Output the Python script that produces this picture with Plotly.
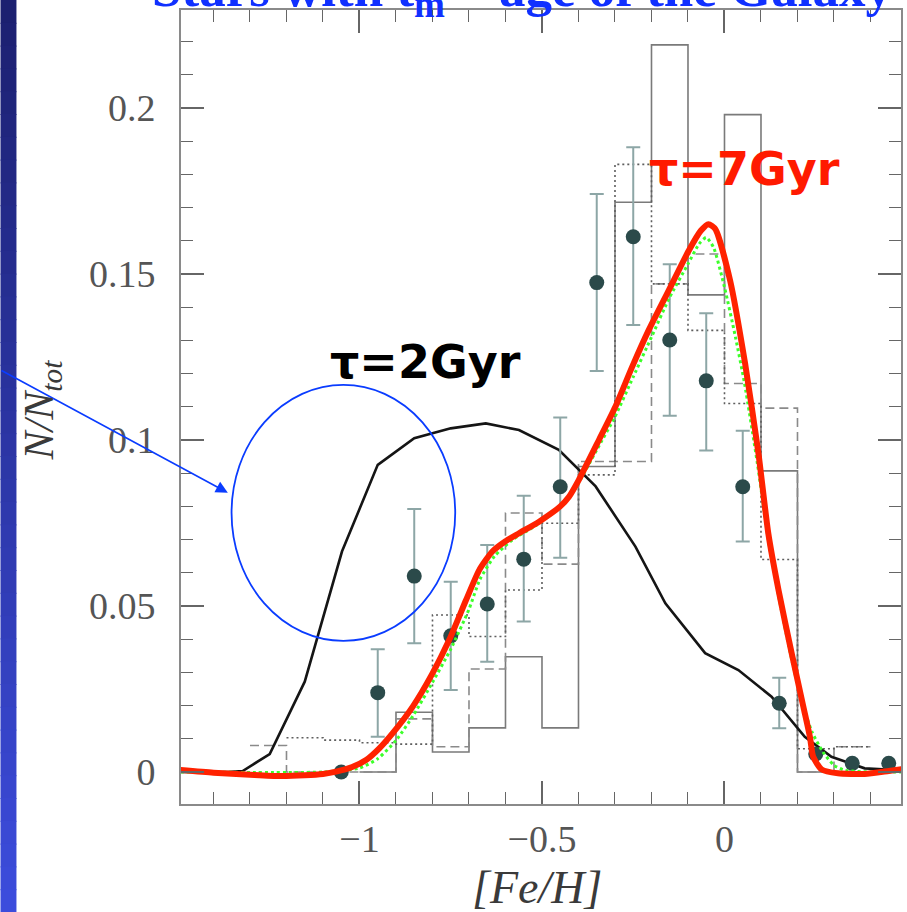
import plotly.graph_objects as go

# ---- observed metallicity distribution (points with error bars) ----
obs_feh = [-1.05, -0.95, -0.85, -0.75, -0.65, -0.55, -0.45, -0.35,
           -0.25, -0.15, -0.05, 0.05, 0.15, 0.25, 0.35, 0.45]
obs_frac = [0.0, 0.0239, 0.059, 0.041, 0.0506, 0.0641, 0.0859, 0.1474,
            0.1612, 0.1301, 0.1178, 0.0859, 0.0207, 0.0054, 0.0026, 0.0026]
obs_hi = [0.0, 0.037, 0.0792, 0.0573, 0.0684, 0.0832, 0.1068, 0.1741,
          0.1882, 0.1529, 0.1382, 0.1028, 0.0284, 0.0054, 0.0026, 0.0026]
obs_lo = [0.0, 0.0106, 0.0388, 0.0247, 0.0332, 0.0453, 0.0645, 0.1208,
          0.1346, 0.1073, 0.0968, 0.0694, 0.0132, 0.0054, 0.0026, 0.0026]

# ---- comparison samples, histograms with 0.1 dex bins ----
solid_edges = [-1.0, -0.9, -0.8, -0.7, -0.6, -0.5, -0.4, -0.3, -0.2, -0.1,
               0.0, 0.1, 0.2, 0.3]
solid_vals = [0.0, 0.018, 0.006, 0.0133, 0.0347, 0.0133, 0.092, 0.1716,
              0.219, 0.1437, 0.198, 0.0907, 0.0]

dashed_edges = [-1.3, -1.2, -1.1, -1.0, -0.9, -0.8, -0.7, -0.6, -0.5, -0.4,
                -0.3, -0.2, -0.1, 0.0, 0.1, 0.2, 0.3, 0.4]
dashed_vals = [0.008, 0.0, 0.0, 0.0, 0.016, 0.0076, 0.031, 0.078, 0.0626,
               0.0935, 0.0935, 0.147, 0.156, 0.117, 0.1096, 0.0, 0.0076]

dotted_edges = [-1.2, -1.1, -1.0, -0.9, -0.8, -0.7, -0.6, -0.5, -0.4, -0.3,
                -0.2, -0.1, 0.0, 0.1, 0.2, 0.3, 0.4]
dotted_vals = [0.0103, 0.0096, 0.0088, 0.0084, 0.0473, 0.0408, 0.0548,
               0.0749, 0.0895, 0.183, 0.147, 0.133, 0.111, 0.064, 0.007,
               0.0076]

# ---- model with tau = 2 Gyr ----
m2_feh = [-1.49, -1.36, -1.32, -1.246, -1.15, -1.048, -0.95, -0.85, -0.75,
          -0.654, -0.563, -0.508, -0.454, -0.353, -0.244, -0.162, -0.053,
          0.038, 0.129, 0.220, 0.293, 0.384, 0.49]
m2_frac = [0.0, 0.0, 0.0003, 0.0054, 0.0272, 0.0664, 0.0925, 0.1005, 0.1035,
           0.105, 0.103, 0.100, 0.097, 0.086, 0.0679, 0.0508, 0.0358, 0.0307,
           0.0227, 0.0106, 0.0046, 0.0011, 0.0005]

# ---- model with tau = 7 Gyr ----
m7_feh = [-1.49, -1.40, -1.30, -1.22, -1.15, -1.10, -1.064, -1.02, -0.982,
          -0.945, -0.909, -0.854, -0.80, -0.754, -0.708, -0.672, -0.636,
          -0.60, -0.563, -0.508, -0.45, -0.426, -0.399, -0.344, -0.299,
          -0.253, -0.208, -0.153, -0.098, -0.065, -0.044, -0.025, 0.0155,
          0.0565, 0.093, 0.120, 0.148, 0.184, 0.216, 0.234, 0.243, 0.266,
          0.311, 0.384, 0.45, 0.49]
m7_frac = [0.0006, -0.0002, -0.0008, -0.0012, -0.0010, -0.0006, 0.0001,
           0.0015, 0.0036, 0.0072, 0.0117, 0.0197, 0.0297, 0.0398, 0.0518,
           0.0608, 0.0664, 0.0695, 0.0719, 0.0754, 0.080, 0.0829, 0.088,
           0.100, 0.110, 0.122, 0.133, 0.145, 0.157, 0.163, 0.165, 0.1635,
           0.148, 0.123, 0.096, 0.0719, 0.0548, 0.0358, 0.0197, 0.0106,
           0.0046, 0.0008, -0.0004, -0.0006, 0.0003, 0.0009]

# ---- alternative model (dotted green) ----
alt_feh = [-1.49, -1.1, -1.0, -0.95, -0.9, -0.85, -0.8, -0.75, -0.70, -0.67,
           -0.63, -0.58, -0.52, -0.47, -0.43, -0.40, -0.35, -0.30, -0.25,
           -0.20, -0.15, -0.10, -0.07, -0.05, -0.03, 0.0, 0.03, 0.055, 0.09,
           0.12, 0.15, 0.18, 0.21, 0.24, 0.27, 0.30, 0.33, 0.40, 0.49]
alt_frac = [0.0, 0.0, 0.0012, 0.004, 0.0095, 0.0175, 0.027, 0.037, 0.049,
            0.058, 0.065, 0.070, 0.074, 0.078, 0.082, 0.087, 0.097, 0.107,
            0.119, 0.131, 0.143, 0.153, 0.159, 0.161, 0.158, 0.146, 0.131,
            0.117, 0.093, 0.070, 0.052, 0.036, 0.022, 0.012, 0.006, 0.002,
            0.0005, 0.0, 0.0]

x_ticks = [-1, -0.5, 0]
x_ticktext = ["\u22121", "\u22120.5", "0"]
y_ticks = [0, 0.05, 0.1, 0.15, 0.2]
y_ticktext = ["0", "0.05", "0.1", "0.15", "0.2"]

X_RANGE = [-1.489, 0.4836]
Y_RANGE = [-0.00964, 0.2295]

fig = go.Figure()


def step_trace(edges, vals, color, dash):
    return go.Scatter(x=edges, y=list(vals) + [vals[-1]], mode="lines",
                      line=dict(shape="hv", color=color, width=1.6, dash=dash),
                      hoverinfo="skip", showlegend=False)


fig.add_trace(step_trace(solid_edges, solid_vals, "#7a7a7a", "solid"))
fig.add_trace(step_trace(dashed_edges, dashed_vals, "#8a8a8a", "9px,5px"))
fig.add_trace(step_trace(dotted_edges, dotted_vals, "#5e5e5e", "2px,3px"))

fig.add_trace(go.Scatter(x=m2_feh, y=m2_frac, mode="lines",
                         line=dict(color="#151515", width=2.6),
                         showlegend=False))

err_up = [h - v for h, v in zip(obs_hi, obs_frac)]
err_dn = [v - l for v, l in zip(obs_frac, obs_lo)]
fig.add_trace(go.Scatter(
    x=obs_feh, y=obs_frac, mode="markers",
    marker=dict(size=15, color="#2b4a4a"),
    error_y=dict(type="data", symmetric=False, array=err_up,
                 arrayminus=err_dn, color="#8da6a6", thickness=2, width=7),
    showlegend=False))

fig.add_trace(go.Scatter(x=alt_feh, y=alt_frac, mode="lines",
                         line=dict(color="#3cff2a", width=3, dash="dot",
                                   shape="spline", smoothing=0.6),
                         showlegend=False))
fig.add_trace(go.Scatter(x=m7_feh, y=m7_frac, mode="lines",
                         line=dict(color="#ff2200", width=6,
                                   shape="spline", smoothing=0.6),
                         showlegend=False))

# left slide border: vertical gradient strip
n_strip = 40
top_rgb = (0x1c, 0x20, 0x70)
bot_rgb = (0x3c, 0x4c, 0xdc)
W, H = 907, 912
L, R, T, B = 181, 4, 10, 108
pw, ph = W - L - R, H - T - B


def px_to_paper_x(px):
    return (px - L) / pw


def py_to_paper_y(py):
    return (H - B - py) / ph


for i in range(n_strip):
    f = i / (n_strip - 1)
    c = tuple(int(round(a + (b - a) * f)) for a, b in zip(top_rgb, bot_rgb))
    fig.add_shape(type="rect", xref="paper", yref="paper",
                  x0=px_to_paper_x(0), x1=px_to_paper_x(16),
                  y0=py_to_paper_y(H * (i + 1) / n_strip + 1),
                  y1=py_to_paper_y(H * i / n_strip),
                  fillcolor="rgb(%d,%d,%d)" % c, line=dict(width=0),
                  layer="below")

# highlighted region
fig.add_shape(type="circle", xref="x", yref="y",
              x0=-1.3505, x1=-0.7377, y0=0.0395, y1=0.1166,
              line=dict(color="#0a3cff", width=1.8), layer="above")

fig.add_annotation(x=-1.3607, y=0.0841, xref="x", yref="y", text="",
                   showarrow=True, ax=-228, ay=-123, arrowhead=2,
                   arrowsize=1.5, arrowwidth=1.6, arrowcolor="#0a3cff",
                   standoff=0)

fig.add_annotation(x=-0.818, y=0.1235, xref="x", yref="y",
                   text="<b>\u03c4=2Gyr</b>", showarrow=False,
                   font=dict(family="DejaVu Sans", size=46, color="#000000"),
                   xanchor="center", yanchor="middle")
fig.add_annotation(x=0.055, y=0.1815, xref="x", yref="y",
                   text="<b>\u03c4=7Gyr</b>", showarrow=False,
                   font=dict(family="DejaVu Sans", size=46, color="#ff1a00"),
                   xanchor="center", yanchor="middle")

# slide heading running off the top edge
fig.add_annotation(x=px_to_paper_x(150), y=py_to_paper_y(-8),
                   xref="paper", yref="paper",
                   text="<b>Stars with t<sub>m</sub> ~ age of the Galaxy</b>",
                   showarrow=False, xanchor="left", yanchor="middle",
                   font=dict(family="Liberation Serif", size=53,
                             color="#1030ff"))

# axis titles
fig.add_annotation(x=px_to_paper_x(42), y=py_to_paper_y(410),
                   xref="paper", yref="paper", textangle=-90,
                   xanchor="center", yanchor="middle",
                   text="<i>N/N</i><sub><i>tot</i></sub>", showarrow=False,
                   font=dict(family="Liberation Serif", size=42,
                             color="#3a3a3a"))
fig.add_annotation(x=px_to_paper_x(538), y=py_to_paper_y(887),
                   xref="paper", yref="paper",
                   xanchor="center", yanchor="middle",
                   text="<i>[Fe/H]</i>", showarrow=False,
                   font=dict(family="Liberation Serif", size=46,
                             color="#3a3a3a"))

axis_common = dict(showline=True, linecolor="#8a8a8a", linewidth=2,
                   mirror="allticks", ticks="inside", ticklen=23,
                   tickwidth=1.6, tickcolor="#666666", showgrid=False,
                   zeroline=False,
                   tickfont=dict(family="Liberation Serif", size=38,
                                 color="#555555"))

fig.update_xaxes(range=X_RANGE, tickvals=x_ticks, ticktext=x_ticktext,
                 minor=dict(ticks="inside", ticklen=12, dtick=0.1, tick0=0,
                            tickcolor="#666666", tickwidth=1.4),
                 ticklabelstandoff=0, **axis_common)
fig.update_yaxes(range=Y_RANGE, tickvals=y_ticks, ticktext=y_ticktext,
                 minor=dict(ticks="inside", ticklen=12, dtick=0.01, tick0=0,
                            tickcolor="#666666", tickwidth=1.4),
                 ticklabelstandoff=16, **axis_common)

fig.update_layout(width=W, height=H,
                  margin=dict(l=L, r=R, t=T, b=B, pad=0),
                  plot_bgcolor="white", paper_bgcolor="white",
                  showlegend=False)

fig.write_html("out.html")
